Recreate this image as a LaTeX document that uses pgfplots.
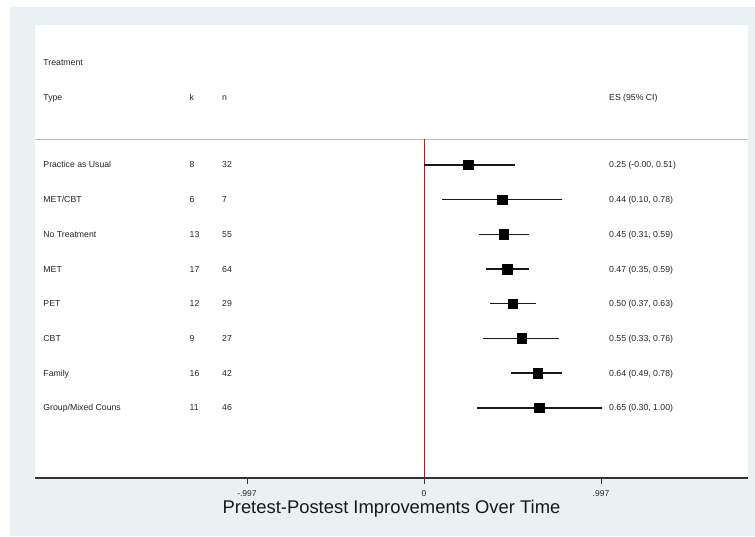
\documentclass[border=0pt]{standalone}
\usepackage{pgfplots}
\pgfplotsset{compat=1.18}
\usepackage{pgfplotstable}
\usepackage{fontspec}
\setmainfont{Liberation Sans}
\definecolor{stbg}{RGB}{233,241,243}
\newcommand\lf{\fontsize{8.7}{10}\selectfont}
\pgfplotstableread{
es   row lo    hi
0.25 1   -0.00 0.51
0.44 2   0.10  0.78
0.45 3   0.31  0.59
0.47 4   0.35  0.59
0.50 5   0.37  0.63
0.55 6   0.33  0.76
0.64 7   0.49  0.78
0.65 8   0.30  1.00
}\estable
\begin{document}
\begin{tikzpicture}[x=1pt,y=1pt]
\fill[white] (0,0) rectangle (755,536);
\fill[stbg] (10,0) rectangle (755,529);
\begin{axis}[
  at={(35pt,58pt)}, anchor=south west, scale only axis,
  width=713pt, height=453pt,
  xmin=-2.191, xmax=1.825, ymin=-3.03, ymax=10.02, y dir=reverse,
  axis background/.style={fill=white},
  axis line style={draw=none},
  ytick=\empty,
  xtick={-0.997,0,0.997}, xticklabels={-.997,0,.997},
  xtick pos=bottom, tick align=outside, major tick length=6pt,
  tick style={black!80, line width=0.8pt},
  xticklabel style={font=\fontsize{8.5}{9}\selectfont, text=black!85, yshift=-3pt},
  /pgf/number format/assume math mode=true,
  clip=false,
]
\draw[black!25, line width=0.8pt] (axis cs:-2.191,0.265) -- (axis cs:1.825,0.265);
\addplot[red, line width=0.9pt, mark=none] coordinates {(0,0.265) (0,10.02)};
\draw[black!80, line width=1.3pt] (axis cs:-2.191,10.02) -- (axis cs:1.825,10.02);
\addplot[draw=none, mark=none, forget plot,
  error bars/.cd, x dir=both, x explicit, error mark=none,
  error bar style={line width=1.5pt, black!90}]
  table[x=es, y=row, x error plus expr=\thisrow{hi}-\thisrow{es}, x error minus expr=\thisrow{es}-\thisrow{lo}] {\estable};
\addplot[only marks, mark=square*, mark size=4.8pt, black] table[x=es, y=row] {\estable};
% header
\begin{scope}[every node/.style={anchor=base west, inner sep=0pt, font=\lf, text=black!85, yshift=-3.1pt}]
\node at (axis cs:-2.1445,-1.967) {Treatment};
\node at (axis cs:-2.1445,-0.95) {Type};
\node at (axis cs:-1.3209,-0.95) {k};
\node at (axis cs:-1.1378,-0.95) {n};
\node at (axis cs:1.0421,-0.95) {ES (95\% CI)};
% rows
\node at (axis cs:-2.1445,1) {Practice as Usual};
\node at (axis cs:-2.1445,2) {MET/CBT};
\node at (axis cs:-2.1445,3) {No Treatment};
\node at (axis cs:-2.1445,4) {MET};
\node at (axis cs:-2.1445,5) {PET};
\node at (axis cs:-2.1445,6) {CBT};
\node at (axis cs:-2.1445,7) {Family};
\node at (axis cs:-2.1445,8) {Group/Mixed Couns};
\node at (axis cs:-1.3209,1) {8};
\node at (axis cs:-1.3209,2) {6};
\node at (axis cs:-1.3209,3) {13};
\node at (axis cs:-1.3209,4) {17};
\node at (axis cs:-1.3209,5) {12};
\node at (axis cs:-1.3209,6) {9};
\node at (axis cs:-1.3209,7) {16};
\node at (axis cs:-1.3209,8) {11};
\node at (axis cs:-1.1378,1) {32};
\node at (axis cs:-1.1378,2) {7};
\node at (axis cs:-1.1378,3) {55};
\node at (axis cs:-1.1378,4) {64};
\node at (axis cs:-1.1378,5) {29};
\node at (axis cs:-1.1378,6) {27};
\node at (axis cs:-1.1378,7) {42};
\node at (axis cs:-1.1378,8) {46};
\node at (axis cs:1.0421,1) {0.25 (-0.00, 0.51)};
\node at (axis cs:1.0421,2) {0.44 (0.10, 0.78)};
\node at (axis cs:1.0421,3) {0.45 (0.31, 0.59)};
\node at (axis cs:1.0421,4) {0.47 (0.35, 0.59)};
\node at (axis cs:1.0421,5) {0.50 (0.37, 0.63)};
\node at (axis cs:1.0421,6) {0.55 (0.33, 0.76)};
\node at (axis cs:1.0421,7) {0.64 (0.49, 0.78)};
\node at (axis cs:1.0421,8) {0.65 (0.30, 1.00)};
\end{scope}
\node[anchor=base, inner sep=0pt, font=\fontsize{18.4}{20}\selectfont, text=black!90] at (axis cs:-0.183,10.02) [yshift=-35pt] {Pretest-Postest Improvements Over Time};
\end{axis}
\end{tikzpicture}
\end{document}
